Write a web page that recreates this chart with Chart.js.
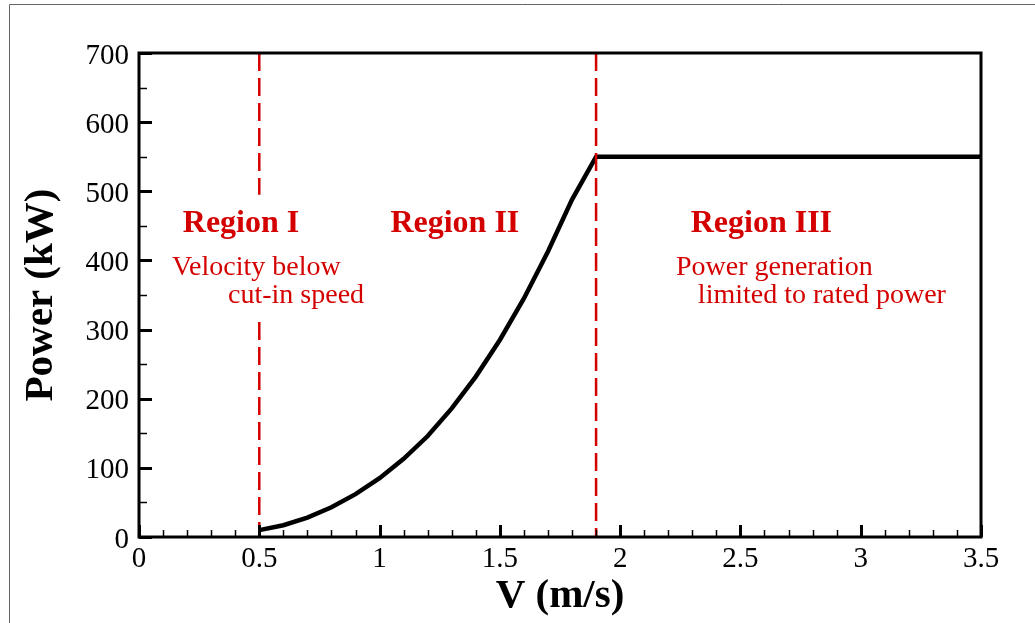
<!DOCTYPE html>
<html>
<head>
<meta charset="utf-8">
<title>Power curve</title>
<script src="https://cdn.jsdelivr.net/npm/chart.js@4"></script>
<style>
  body { margin: 0; background: #fff; }
  #wrap { position: relative; width: 1035px; height: 623px; }
</style>
</head>
<body>
<div id="wrap"><canvas id="powerChart"></canvas></div>
<script>
// values
const speed = [0.5, 0.6, 0.7, 0.8, 0.9, 1.0, 1.1, 1.2, 1.3, 1.4, 1.5, 1.6, 1.7, 1.8, 1.9, 3.5];
const power = [10, 17, 28, 43, 62, 85, 113, 146, 186, 232, 285, 345, 413, 488, 550, 550];
const cutInSpeed = 0.5;
const ratedSpeed = 1.9;
const xRange = [0, 3.5];
const yRange = [0, 700];
const regionTitles = ['Region I', 'Region II', 'Region III'];
const regionNotes = [['Velocity below', 'cut-in speed'], ['Power generation', 'limited to rated power']];

const serif = "'Liberation Serif', 'Times New Roman', serif";
const red = '#d40000';

// text placed in data units so it follows the scales
const titleSpots = [{ x: 0.424, y: 441 }, { x: 1.313, y: 441 }, { x: 2.587, y: 441 }];
const noteSpots = [
    [{ x: 0.137, y: 379 }, { x: 0.370, y: 338 }],
    [{ x: 2.232, y: 379 }, { x: 2.323, y: 338 }]
];

const framePlugin = {
    id: 'frame',
    beforeDraw(chart) {
        const ctx = chart.ctx;
        ctx.save();
        ctx.fillStyle = '#fff';
        ctx.fillRect(0, 0, chart.width, chart.height);
        ctx.strokeStyle = '#666';
        ctx.lineWidth = 1;
        ctx.beginPath();
        ctx.moveTo(9.5, chart.height);
        ctx.lineTo(9.5, 4.5);
        ctx.lineTo(chart.width, 4.5);
        ctx.stroke();
        ctx.restore();
    },
    afterDatasetsDraw(chart) {
        const ctx = chart.ctx;
        const x = chart.scales.x, y = chart.scales.y;
        const a = chart.chartArea;
        ctx.save();
        ctx.strokeStyle = '#000';
        // minor + major ticks pointing inward
        for (let i = 0; i <= 35; i++) {
            const major = i % 5 === 0;
            const px = Math.round(x.getPixelForValue(i / 10)) + 0.5;
            ctx.lineWidth = major ? 3 : 1.5;
            ctx.beginPath();
            ctx.moveTo(px, a.bottom);
            ctx.lineTo(px, a.bottom - (major ? 12 : 7));
            ctx.stroke();
        }
        for (let v = 0; v <= 700; v += 50) {
            const major = v % 100 === 0;
            const py = Math.round(y.getPixelForValue(v)) + 0.5;
            ctx.lineWidth = major ? 3 : 1.5;
            ctx.beginPath();
            ctx.moveTo(a.left, py);
            ctx.lineTo(a.left + (major ? 13 : 8), py);
            ctx.stroke();
        }
        ctx.lineWidth = 3;
        ctx.strokeRect(a.left, a.top, a.right - a.left, a.bottom - a.top);

        // region labels
        ctx.fillStyle = red;
        ctx.textBaseline = 'alphabetic';
        ctx.font = 'bold 32px ' + serif;
        ctx.textAlign = 'center';
        regionTitles.forEach((t, i) => {
            ctx.fillText(t, x.getPixelForValue(titleSpots[i].x), y.getPixelForValue(titleSpots[i].y));
        });
        ctx.font = '28px ' + serif;
        ctx.textAlign = 'left';
        regionNotes.forEach((lines, i) => {
            lines.forEach((t, j) => {
                ctx.fillText(t, x.getPixelForValue(noteSpots[i][j].x), y.getPixelForValue(noteSpots[i][j].y));
            });
        });
        ctx.restore();
    }
};

const ctx = document.getElementById('powerChart').getContext('2d');
const powerChart = new Chart(ctx, {
    type: 'line',
    data: {
        datasets: [
            {
                // cut-in line, broken where the Region I text sits
                data: [{ x: cutInSpeed, y: yRange[1] }, { x: cutInSpeed, y: 495 }, { x: cutInSpeed, y: null }, { x: cutInSpeed, y: 311 }, { x: cutInSpeed, y: yRange[0] }],
                borderColor: red,
                borderWidth: 2.5,
                borderDash: [18, 7],
                pointRadius: 0,
                spanGaps: false
            },
            {
                data: [{ x: ratedSpeed, y: yRange[1] }, { x: ratedSpeed, y: yRange[0] }],
                borderColor: red,
                borderWidth: 2.5,
                borderDash: [18, 7],
                pointRadius: 0
            },
            {
                data: speed.map((v, i) => ({ x: v, y: power[i] })),
                borderColor: '#000',
                borderWidth: 4.5,
                borderJoinStyle: 'miter',
                pointRadius: 0,
                tension: 0
            }
        ]
    },
    options: {
        responsive: true,
        maintainAspectRatio: false,
        devicePixelRatio: 1,
        animation: false,
        layout: { padding: { top: 53, right: 54, left: 0, bottom: 0 } },
        plugins: {
            legend: { display: false },
            tooltip: { enabled: false }
        },
        scales: {
            x: {
                type: 'linear',
                min: xRange[0],
                max: xRange[1],
                grid: { display: false, drawTicks: false },
                border: { display: false },
                ticks: {
                    stepSize: 0.5,
                    padding: 5,
                    color: '#000',
                    maxRotation: 0,
                    font: { family: serif, size: 29 },
                    callback: (v) => String(v)
                },
                title: {
                    display: true,
                    text: 'V (m/s)',
                    color: '#000',
                    padding: { top: 0, bottom: 2 },
                    font: { family: serif, size: 41, weight: 'bold' }
                },
                afterFit(scale) { scale.height = 86; }
            },
            y: {
                min: yRange[0],
                max: yRange[1],
                grid: { display: false, drawTicks: false },
                border: { display: false },
                ticks: {
                    stepSize: 100,
                    padding: 10,
                    labelOffset: 3,
                    color: '#000',
                    font: { family: serif, size: 29 }
                },
                title: {
                    display: true,
                    text: 'Power (kW)',
                    color: '#000',
                    padding: { top: 17, bottom: 0 },
                    font: { family: serif, size: 41, weight: 'bold' }
                },
                afterFit(scale) { scale.width = 139; }
            }
        }
    },
    plugins: [framePlugin]
});
</script>
</body>
</html>
